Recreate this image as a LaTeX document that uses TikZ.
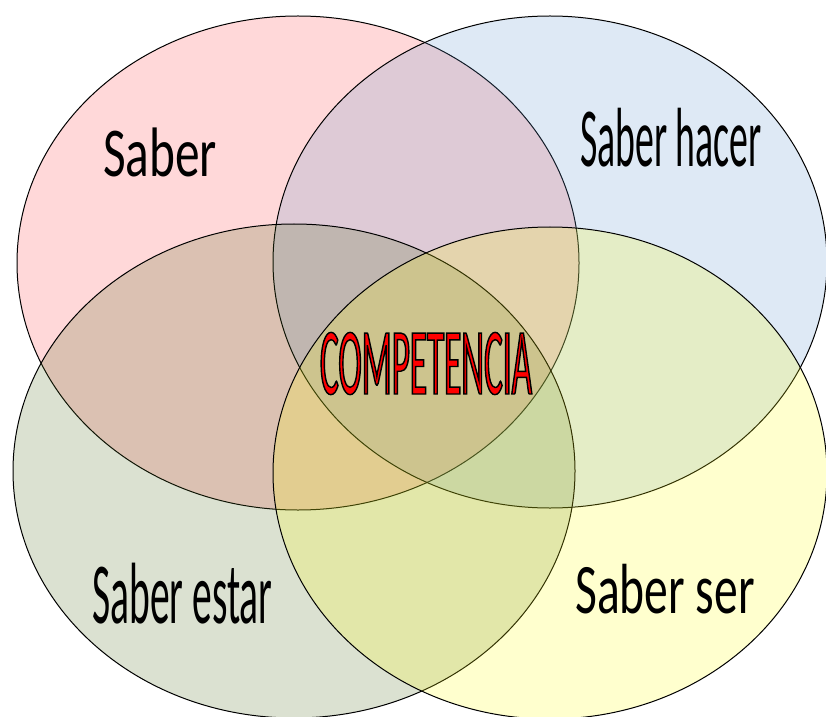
\documentclass[tikz,border=0pt]{standalone}
\usepackage{fontspec}
\setmainfont{Carlito}

\definecolor{saberpink}{RGB}{255,60,65}
\definecolor{haceblue}{RGB}{90,145,205}
\definecolor{estargreen}{RGB}{75,105,25}
\definecolor{seryellow}{RGB}{255,255,10}

\tikzset{
  set/.style={draw=black, line width=1pt, fill opacity=0.2},
  lbl/.style={anchor=base, inner sep=0pt, text=black}
}
\newcommand{\lblfont}[2]{\fontsize{#1}{#1}\selectfont\addfontfeatures{FakeStretch=#2}}
% relleno rojo con borde negro
\newcommand{\redoutline}[1]{{\addfontfeatures{FakeBold=1.5}\color{red}\special{pdf:literal direct 0 0 0 RG}#1}}

\begin{document}
\begin{tikzpicture}[x=1pt,y=1pt]

\useasboundingbox (0,0) rectangle (826,716);
\clip (0,0) rectangle (826,716);

%los cuatro saberes
\draw[set,fill=saberpink](298,453) ellipse [x radius=281,y radius=247];
\draw[set,fill=haceblue](550,454) ellipse [x radius=277,y radius=246];
\draw[set,fill=estargreen](294,245) ellipse [x radius=281,y radius=247];
\draw[set,fill=seryellow](550,243) ellipse [x radius=277,y radius=246];

\node[lbl] (saber) at (160,539) {\lblfont{70}{0.705}Saber};
\node[lbl] (hacer) at (671,549) {\lblfont{84}{0.45}Saber hacer};
\node[lbl] (estar) at (182.5,93) {\lblfont{87}{0.454}Saber estar};
\node[lbl] (ser) at (665,103) {\lblfont{71}{0.67}Saber ser};

%centro
\node[lbl] (comp) at (426,322) {\lblfont{95}{0.37}\redoutline{COMPETENCIA}};

\end{tikzpicture}
\end{document}
